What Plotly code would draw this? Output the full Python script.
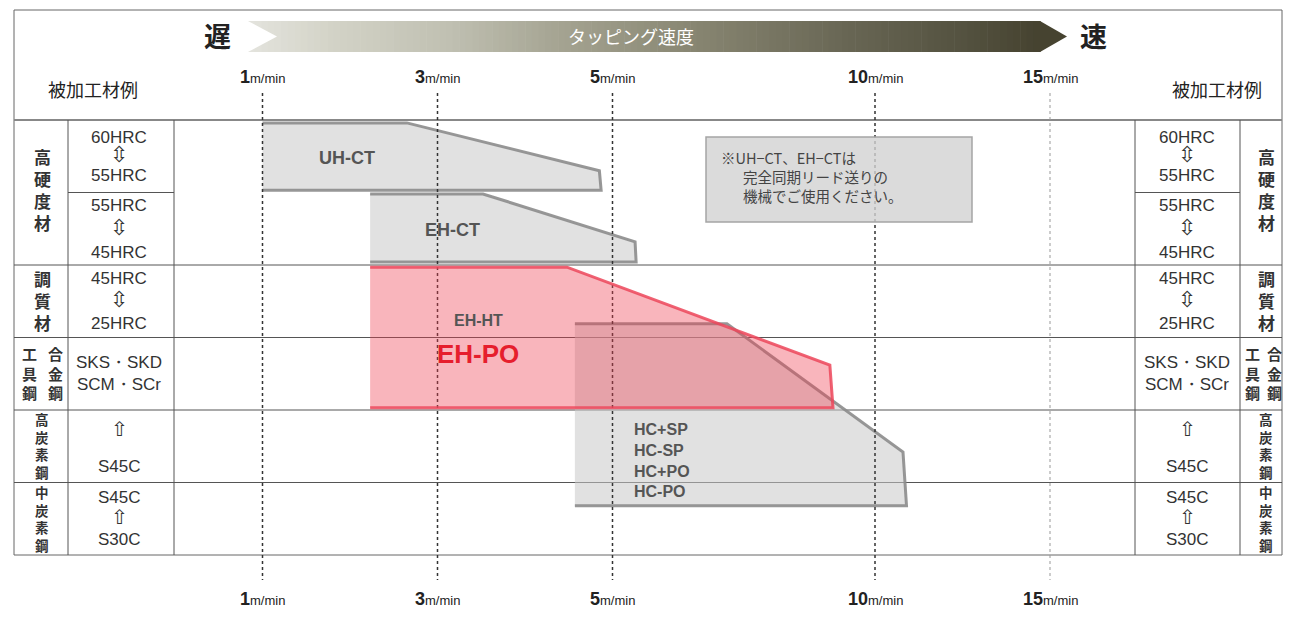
import numpy as np
import plotly.graph_objects as go

# ---- data ----
speed_ticks = [1, 3, 5, 10, 15]                      # m/min

# tool zones: polygon vertices as (speed m/min, material row position)
uhct_speed = [1.0, 2.65, 4.85, 4.87, 1.0]
uhct_row = [0.04, 0.04, 0.70, 0.97, 0.97]
ehct_speed = [2.23, 3.52, 5.43, 5.45, 2.23]
ehct_row = [1.02, 1.02, 1.68, 1.96, 1.96]
ehpo_speed = [2.23, 4.48, 9.14, 9.20, 2.23]
ehpo_row = [2.03, 2.03, 3.38, 3.97, 3.97]
hc_speed = [4.57, 7.18, 10.8, 10.9, 4.57]
hc_row = [2.81, 2.81, 4.58, 5.32, 5.32]

categories = ["高硬度材", "調質材", ("工具鋼", "合金鋼"), "高炭素鋼", "中炭素鋼"]
materials = [["60HRC", "⇳", "55HRC"], ["55HRC", "⇳", "45HRC"], ["45HRC", "⇳", "25HRC"],
             ["SKS・SKD", "SCM・SCr"], ["⇧", "", "S45C"], ["S45C", "⇧", "S30C"]]
hc_names = ["HC+SP", "HC-SP", "HC+PO", "HC-PO"]
note_lines = ["※UH−CT、EH−CTは", "完全同期リード送りの", "機械でご使用ください。"]

# ---- scales ----
# page body has an 8px margin, so the figure is a bit smaller and shifted
OFF = 8
W, H = 1295 - 2 * OFF, 619 - 2 * OFF
SLOT_PX = 175
tick_slot = [1.5, 2.5, 3.5, 5.0, 6.0]   # non-linear speed scale
ROW_TOP, ROW_PX = 120, 72.5

JP = "Noto Sans CJK JP"
SANS = "Liberation Sans"
NARROW = "Liberation Sans Narrow, Liberation Sans"
ARROW = "DejaVu Sans"


def sx(speed):
    return np.interp(speed, speed_ticks, tick_slot)


def px(x):
    return (x - OFF) / W


def py(y):
    return 1 - (y - OFF) / H


def row_y(pxy):
    return (pxy - ROW_TOP) / ROW_PX


fig = go.Figure()
shapes = []
annotations = []


def text(x, y, s, size, color="#333", family=SANS, xanchor="center", xref="paper", yanchor="middle"):
    annotations.append(dict(x=x if xref == "x" else px(x), y=py(y), xref=xref, yref="paper",
                            text=s, showarrow=False, xanchor=xanchor, yanchor=yanchor, align=xanchor,
                            font=dict(size=size, color=color, family=family)))


def vtext(x, yc, s, size):
    text(x, yc, "<b>" + "<br>".join(s) + "</b>", size, "#333", JP)


def line(x0, y0, x1, y1, color="#555", width=1, layer="below"):
    shapes.append(dict(type="line", xref="paper", yref="paper", x0=px(x0), y0=py(y0),
                       x1=px(x1), y1=py(y1), line=dict(color=color, width=width), layer=layer))


# ---- header gradient arrow ----
stops_x = [248, 330, 450, 560, 700, 850, 960, 1040]
stops_c = np.array([[228, 228, 222], [212, 212, 200], [192, 192, 178], [165, 164, 146],
                    [135, 133, 113], [104, 102, 84], [85, 83, 65], [70, 67, 48]])
edges = np.linspace(248, 1040, 121)
for a, b in zip(edges[:-1], edges[1:]):
    m = (a + b) / 2
    c = [int(np.interp(m, stops_x, stops_c[:, k])) for k in range(3)]
    shapes.append(dict(type="rect", xref="paper", yref="paper", x0=px(a), x1=px(b + 0.6),
                       y0=py(52), y1=py(21), line=dict(width=0), fillcolor=f"rgb({c[0]},{c[1]},{c[2]})"))
shapes.append(dict(type="path", xref="paper", yref="paper", line=dict(width=0), fillcolor="rgb(70,67,48)",
                   path=f"M {px(1040)} {py(21)} L {px(1067)} {py(36.5)} L {px(1040)} {py(52)} Z"))
shapes.append(dict(type="path", xref="paper", yref="paper", line=dict(width=0), fillcolor="white",
                   path=f"M {px(247)} {py(20.5)} L {px(277)} {py(36.5)} L {px(247)} {py(52.5)} Z"))
text(631, 36, "タッピング速度", 18, "white", JP)
text(217, 35, "<b>遅</b>", 27, "#222", JP)
text(1093, 35, "<b>速</b>", 27, "#222", JP)
text(93, 89, "被加工材例", 18, "#222", JP)
text(1217, 89, "被加工材例", 18, "#222", JP)

# speed tick labels (top and bottom) on the speed scale
for s in speed_ticks:
    lab = f"<b>{s}</b><span style='font-size:13px'>m/min</span>"
    text(sx(s), 77, lab, 18, "#222", NARROW, xref="x")
    text(sx(s), 611, lab, 18, "#222", NARROW, xref="x", yanchor="bottom")

# ---- table frame ----
shapes.append(dict(type="rect", xref="paper", yref="paper", x0=px(14), x1=px(1282), y0=py(10), y1=py(555),
                   line=dict(color="#666", width=1), layer="below"))
line(14, 120, 1282, 120, "#888", 2)
for i in [2, 3, 4, 5]:
    yy = ROW_TOP + ROW_PX * i
    line(14, yy, 1282, yy)
line(68, 192.5, 174, 192.5)
line(1135, 192.5, 1240, 192.5)
for xx in [68, 174, 1135, 1240]:
    line(xx, 120, xx, 555)


# material column texts: one block per cell, line pitch set by the base size
def cell_line(t):
    if t == "⇳":
        return f"<span style='font-size:22px;font-family:{ARROW}'>⇳</span>"
    if t == "⇧":
        return f"<span style='font-size:20px;font-family:{ARROW}'>⇧</span>"
    return f"<span style='font-size:17px'>{t}</span>" if t else " "


pitch = [19, 23.5, 22.5, 22, 18, 21]
for i, lines_ in enumerate(materials):
    yc = ROW_TOP + ROW_PX * (i + 0.5)
    block = "<br>".join(cell_line(t) for t in lines_)
    text(119, yc, block, pitch[i] / 1.3, "#333", SANS)
    text(1187, yc, block, pitch[i] / 1.3, "#333", SANS)

# category vertical labels
vtext(42, 190, categories[0], 17)
vtext(1266, 190, categories[0], 17)
vtext(42, 300, categories[1], 17)
vtext(1266, 300, categories[1], 17)
vtext(29, 373, categories[2][0], 15)
vtext(55, 373, categories[2][1], 15)
vtext(1252, 373, categories[2][0], 15)
vtext(1274, 373, categories[2][1], 15)
vtext(42, 445, categories[3], 13.5)
vtext(1266, 445, categories[3], 13.5)
vtext(42, 518, categories[4], 13.5)
vtext(1266, 518, categories[4], 13.5)

# ---- tool zones ----
gray_fill = "rgba(200,200,200,0.55)"
gray_line = "rgba(140,140,140,0.9)"
for sp, rw in [(uhct_speed, uhct_row), (ehct_speed, ehct_row), (hc_speed, hc_row)]:
    fig.add_trace(go.Scatter(x=sx(sp), y=rw, mode="lines", fill="toself", fillcolor=gray_fill,
                             line=dict(color=gray_line, width=3), hoverinfo="skip", showlegend=False))

# speed guide lines
for s in speed_ticks:
    light = s == 15
    fig.add_trace(go.Scatter(x=[sx(s), sx(s)], y=[row_y(93), row_y(580)], mode="lines",
                             line=dict(color="#999" if light else "#333", width=1 if light else 1.5, dash="dot"),
                             hoverinfo="skip", showlegend=False))

fig.add_trace(go.Scatter(x=sx(ehpo_speed), y=ehpo_row, mode="lines", fill="toself",
                         fillcolor="rgba(238,60,80,0.38)", line=dict(color="rgba(236,70,90,0.85)", width=3),
                         hoverinfo="skip", showlegend=False))

# zone labels
gray_txt = "#555"
text(347, 158, "<b>UH-CT</b>", 18, gray_txt, NARROW)
text(452, 230, "<b>EH-CT</b>", 18, gray_txt, NARROW)
text(478, 320, "<b>EH-HT</b>", 16, gray_txt, NARROW)
text(478, 354, "<b>EH-PO</b>", 26, "#e61e2d", NARROW)
hc_block = "<br>".join("<b>" + n + "</b>" for n in hc_names)
text(632, 460, hc_block, 16, gray_txt, NARROW, xanchor="left")

# note box
shapes.append(dict(type="rect", xref="paper", yref="paper", x0=px(706), x1=px(972), y0=py(222), y1=py(137),
                   line=dict(color="#a5a5a5", width=1.5), fillcolor="rgba(210,210,210,0.8)", layer="above"))
text(719, 157, note_lines[0], 14.5, "#444", JP, xanchor="left")
text(741, 176, note_lines[1], 14.5, "#444", JP, xanchor="left")
text(741, 195, note_lines[2], 14.5, "#444", JP, xanchor="left")

fig.update_layout(
    width=W, height=H,
    margin=dict(l=0, r=0, t=0, b=0),
    paper_bgcolor="white", plot_bgcolor="white",
    xaxis=dict(range=[OFF / SLOT_PX, (OFF + W) / SLOT_PX], visible=False, fixedrange=True),
    yaxis=dict(range=[row_y(OFF + H), row_y(OFF)], visible=False, fixedrange=True),
    shapes=shapes, annotations=annotations,
    showlegend=False,
)

fig.write_html("out.html")
